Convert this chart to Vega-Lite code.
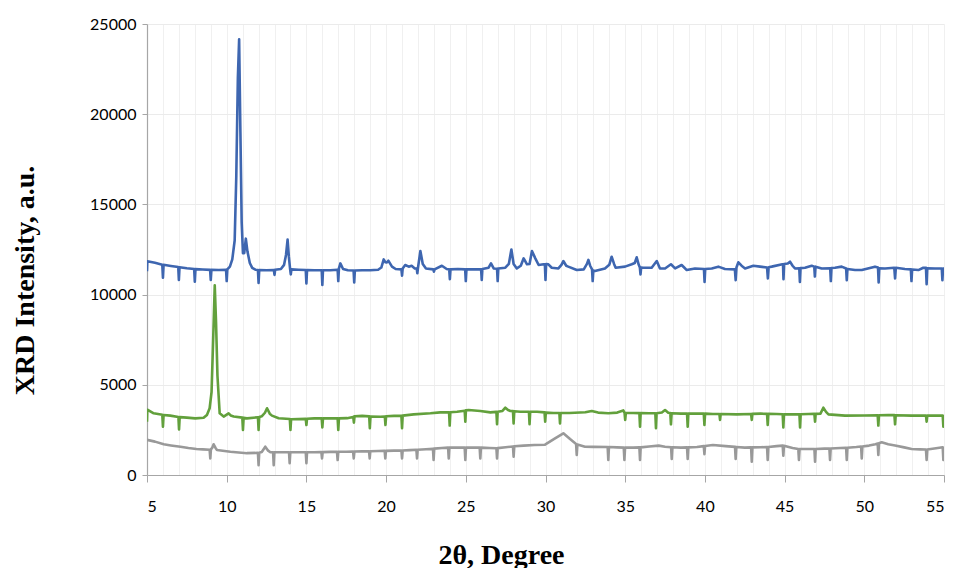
{
"$schema":"https://vega.github.io/schema/vega-lite/v6.json",
"width":797,"height":451,
"autosize":"none",
"padding":{"left":147,"top":24,"right":13,"bottom":93},
"background":"white",
"config":{"view":{"stroke":null}},
"data":{"values":[
{"s":"B","x":5.0,"y":11300},{"s":"B","x":5.02,"y":11850},{"s":"B","x":5.5,"y":11760},{"s":"B","x":5.96,"y":11660},{"s":"B","x":6.0,"y":10940},{"s":"B","x":6.04,"y":11650},{"s":"B","x":6.5,"y":11590},{"s":"B","x":6.96,"y":11530},{"s":"B","x":7.0,"y":10810},{"s":"B","x":7.04,"y":11520},{"s":"B","x":7.5,"y":11460},{"s":"B","x":7.96,"y":11420},{"s":"B","x":8.0,"y":10720},{"s":"B","x":8.04,"y":11410},{"s":"B","x":8.5,"y":11390},{"s":"B","x":8.96,"y":11370},{"s":"B","x":9.0,"y":10810},{"s":"B","x":9.04,"y":11370},{"s":"B","x":9.5,"y":11360},{"s":"B","x":9.96,"y":11380},{"s":"B","x":10.0,"y":10750},{"s":"B","x":10.04,"y":11400},{"s":"B","x":10.2,"y":11550},{"s":"B","x":10.35,"y":11950},{"s":"B","x":10.5,"y":13000},{"s":"B","x":10.6,"y":16500},{"s":"B","x":10.7,"y":22000},{"s":"B","x":10.78,"y":24150},{"s":"B","x":10.86,"y":19000},{"s":"B","x":10.94,"y":14000},{"s":"B","x":11.02,"y":12300},{"s":"B","x":11.1,"y":12300},{"s":"B","x":11.2,"y":13100},{"s":"B","x":11.3,"y":12400},{"s":"B","x":11.45,"y":11750},{"s":"B","x":11.6,"y":11480},{"s":"B","x":11.8,"y":11380},{"s":"B","x":11.96,"y":11360},{"s":"B","x":12.0,"y":10650},{"s":"B","x":12.04,"y":11360},{"s":"B","x":12.5,"y":11350},{"s":"B","x":12.96,"y":11360},{"s":"B","x":13.0,"y":11090},{"s":"B","x":13.04,"y":11380},{"s":"B","x":13.4,"y":11420},{"s":"B","x":13.6,"y":11650},{"s":"B","x":13.72,"y":12200},{"s":"B","x":13.82,"y":13050},{"s":"B","x":13.9,"y":12100},{"s":"B","x":13.98,"y":11400},{"s":"B","x":14.02,"y":11120},{"s":"B","x":14.06,"y":11400},{"s":"B","x":14.5,"y":11380},{"s":"B","x":14.96,"y":11360},{"s":"B","x":15.0,"y":10620},{"s":"B","x":15.04,"y":11360},{"s":"B","x":15.5,"y":11350},{"s":"B","x":15.96,"y":11350},{"s":"B","x":16.0,"y":10530},{"s":"B","x":16.04,"y":11350},{"s":"B","x":16.5,"y":11350},{"s":"B","x":16.96,"y":11380},{"s":"B","x":17.0,"y":10750},{"s":"B","x":17.04,"y":11450},{"s":"B","x":17.13,"y":11730},{"s":"B","x":17.3,"y":11420},{"s":"B","x":17.6,"y":11350},{"s":"B","x":17.96,"y":11340},{"s":"B","x":18.0,"y":10680},{"s":"B","x":18.04,"y":11340},{"s":"B","x":18.5,"y":11350},{"s":"B","x":19.0,"y":11350},{"s":"B","x":19.5,"y":11380},{"s":"B","x":19.7,"y":11500},{"s":"B","x":19.85,"y":11950},{"s":"B","x":19.95,"y":11800},{"s":"B","x":20.05,"y":11780},{"s":"B","x":20.14,"y":11880},{"s":"B","x":20.37,"y":11550},{"s":"B","x":20.6,"y":11420},{"s":"B","x":20.96,"y":11400},{"s":"B","x":21.0,"y":11050},{"s":"B","x":21.04,"y":11450},{"s":"B","x":21.2,"y":11640},{"s":"B","x":21.42,"y":11550},{"s":"B","x":21.6,"y":11600},{"s":"B","x":21.8,"y":11450},{"s":"B","x":21.92,"y":11450},{"s":"B","x":21.96,"y":11180},{"s":"B","x":22.0,"y":11480},{"s":"B","x":22.15,"y":12420},{"s":"B","x":22.3,"y":11700},{"s":"B","x":22.5,"y":11450},{"s":"B","x":22.96,"y":11400},{"s":"B","x":23.0,"y":11270},{"s":"B","x":23.04,"y":11400},{"s":"B","x":23.5,"y":11600},{"s":"B","x":23.8,"y":11420},{"s":"B","x":23.96,"y":11400},{"s":"B","x":24.0,"y":10860},{"s":"B","x":24.04,"y":11400},{"s":"B","x":24.5,"y":11420},{"s":"B","x":24.96,"y":11400},{"s":"B","x":25.0,"y":10750},{"s":"B","x":25.04,"y":11400},{"s":"B","x":25.5,"y":11400},{"s":"B","x":25.96,"y":11400},{"s":"B","x":26.0,"y":10810},{"s":"B","x":26.04,"y":11420},{"s":"B","x":26.43,"y":11490},{"s":"B","x":26.58,"y":11730},{"s":"B","x":26.75,"y":11450},{"s":"B","x":26.96,"y":11430},{"s":"B","x":27.0,"y":10750},{"s":"B","x":27.04,"y":11450},{"s":"B","x":27.48,"y":11490},{"s":"B","x":27.7,"y":11700},{"s":"B","x":27.86,"y":12500},{"s":"B","x":28.0,"y":11700},{"s":"B","x":28.2,"y":11450},{"s":"B","x":28.45,"y":11600},{"s":"B","x":28.63,"y":12010},{"s":"B","x":28.84,"y":11680},{"s":"B","x":29.0,"y":11700},{"s":"B","x":29.15,"y":12420},{"s":"B","x":29.36,"y":12010},{"s":"B","x":29.57,"y":11640},{"s":"B","x":29.88,"y":11680},{"s":"B","x":29.96,"y":11680},{"s":"B","x":30.0,"y":10810},{"s":"B","x":30.04,"y":11700},{"s":"B","x":30.18,"y":11680},{"s":"B","x":30.39,"y":11490},{"s":"B","x":30.81,"y":11450},{"s":"B","x":31.0,"y":11650},{"s":"B","x":31.12,"y":11860},{"s":"B","x":31.3,"y":11600},{"s":"B","x":31.43,"y":11550},{"s":"B","x":31.96,"y":11360},{"s":"B","x":32.4,"y":11400},{"s":"B","x":32.6,"y":11700},{"s":"B","x":32.69,"y":11920},{"s":"B","x":32.8,"y":11600},{"s":"B","x":32.92,"y":11400},{"s":"B","x":32.96,"y":10750},{"s":"B","x":33.0,"y":11330},{"s":"B","x":33.1,"y":11310},{"s":"B","x":33.73,"y":11450},{"s":"B","x":34.0,"y":11650},{"s":"B","x":34.15,"y":12100},{"s":"B","x":34.3,"y":11700},{"s":"B","x":34.4,"y":11490},{"s":"B","x":34.99,"y":11550},{"s":"B","x":35.41,"y":11680},{"s":"B","x":35.6,"y":11750},{"s":"B","x":35.72,"y":12065},{"s":"B","x":35.85,"y":11650},{"s":"B","x":35.92,"y":11500},{"s":"B","x":35.96,"y":11120},{"s":"B","x":36.0,"y":11500},{"s":"B","x":36.14,"y":11490},{"s":"B","x":36.66,"y":11490},{"s":"B","x":36.98,"y":11860},{"s":"B","x":37.18,"y":11450},{"s":"B","x":37.5,"y":11450},{"s":"B","x":37.87,"y":11680},{"s":"B","x":38.13,"y":11450},{"s":"B","x":38.54,"y":11640},{"s":"B","x":38.7,"y":11500},{"s":"B","x":38.86,"y":11360},{"s":"B","x":39.38,"y":11450},{"s":"B","x":39.94,"y":11420},{"s":"B","x":39.98,"y":10700},{"s":"B","x":40.02,"y":11420},{"s":"B","x":40.43,"y":11450},{"s":"B","x":40.84,"y":11550},{"s":"B","x":41.26,"y":11420},{"s":"B","x":41.88,"y":11400},{"s":"B","x":41.93,"y":10800},{"s":"B","x":41.98,"y":11500},{"s":"B","x":42.1,"y":11790},{"s":"B","x":42.3,"y":11600},{"s":"B","x":42.52,"y":11450},{"s":"B","x":43.04,"y":11600},{"s":"B","x":43.46,"y":11550},{"s":"B","x":43.9,"y":11500},{"s":"B","x":43.95,"y":10900},{"s":"B","x":44.0,"y":11520},{"s":"B","x":44.19,"y":11550},{"s":"B","x":44.86,"y":11680},{"s":"B","x":44.9,"y":11680},{"s":"B","x":44.93,"y":10850},{"s":"B","x":44.97,"y":11700},{"s":"B","x":45.2,"y":11720},{"s":"B","x":45.34,"y":11825},{"s":"B","x":45.5,"y":11600},{"s":"B","x":45.65,"y":11450},{"s":"B","x":45.92,"y":11460},{"s":"B","x":45.96,"y":10700},{"s":"B","x":46.0,"y":11470},{"s":"B","x":46.28,"y":11490},{"s":"B","x":46.7,"y":11600},{"s":"B","x":46.86,"y":11550},{"s":"B","x":46.9,"y":11000},{"s":"B","x":46.94,"y":11550},{"s":"B","x":47.33,"y":11450},{"s":"B","x":47.86,"y":11460},{"s":"B","x":47.9,"y":10750},{"s":"B","x":47.94,"y":11470},{"s":"B","x":48.16,"y":11490},{"s":"B","x":48.58,"y":11550},{"s":"B","x":48.86,"y":11450},{"s":"B","x":48.9,"y":10800},{"s":"B","x":48.94,"y":11420},{"s":"B","x":49.42,"y":11360},{"s":"B","x":49.84,"y":11360},{"s":"B","x":50.67,"y":11550},{"s":"B","x":50.86,"y":11500},{"s":"B","x":50.9,"y":10680},{"s":"B","x":50.94,"y":11460},{"s":"B","x":51.3,"y":11450},{"s":"B","x":51.88,"y":11490},{"s":"B","x":51.93,"y":10900},{"s":"B","x":51.98,"y":11490},{"s":"B","x":52.55,"y":11420},{"s":"B","x":52.92,"y":11400},{"s":"B","x":52.96,"y":10750},{"s":"B","x":53.0,"y":11390},{"s":"B","x":53.39,"y":11360},{"s":"B","x":53.7,"y":11490},{"s":"B","x":53.87,"y":11480},{"s":"B","x":53.91,"y":10570},{"s":"B","x":53.95,"y":11460},{"s":"B","x":54.44,"y":11450},{"s":"B","x":54.86,"y":11450},{"s":"B","x":54.9,"y":10800},{"s":"B","x":54.94,"y":11450},{"s":"B","x":55.0,"y":11450},
{"s":"G","x":5.0,"y":2950},{"s":"G","x":5.02,"y":3620},{"s":"G","x":5.42,"y":3420},{"s":"G","x":5.96,"y":3340},{"s":"G","x":6.0,"y":2680},{"s":"G","x":6.04,"y":3330},{"s":"G","x":6.46,"y":3290},{"s":"G","x":6.97,"y":3220},{"s":"G","x":7.01,"y":2530},{"s":"G","x":7.05,"y":3210},{"s":"G","x":7.5,"y":3180},{"s":"G","x":8.03,"y":3140},{"s":"G","x":8.55,"y":3170},{"s":"G","x":8.76,"y":3330},{"s":"G","x":8.93,"y":3700},{"s":"G","x":9.05,"y":4600},{"s":"G","x":9.15,"y":7500},{"s":"G","x":9.25,"y":10520},{"s":"G","x":9.33,"y":8500},{"s":"G","x":9.42,"y":5500},{"s":"G","x":9.56,"y":3420},{"s":"G","x":9.81,"y":3240},{"s":"G","x":10.12,"y":3420},{"s":"G","x":10.25,"y":3300},{"s":"G","x":10.44,"y":3240},{"s":"G","x":10.98,"y":3180},{"s":"G","x":11.02,"y":2500},{"s":"G","x":11.06,"y":3170},{"s":"G","x":11.27,"y":3140},{"s":"G","x":11.96,"y":3200},{"s":"G","x":12.0,"y":2500},{"s":"G","x":12.04,"y":3220},{"s":"G","x":12.21,"y":3260},{"s":"G","x":12.4,"y":3450},{"s":"G","x":12.53,"y":3700},{"s":"G","x":12.7,"y":3400},{"s":"G","x":12.84,"y":3290},{"s":"G","x":13.26,"y":3150},{"s":"G","x":13.96,"y":3100},{"s":"G","x":14.0,"y":2500},{"s":"G","x":14.04,"y":3090},{"s":"G","x":14.5,"y":3100},{"s":"G","x":14.96,"y":3110},{"s":"G","x":15.0,"y":2770},{"s":"G","x":15.04,"y":3120},{"s":"G","x":15.5,"y":3140},{"s":"G","x":15.96,"y":3140},{"s":"G","x":16.0,"y":2640},{"s":"G","x":16.04,"y":3140},{"s":"G","x":16.5,"y":3140},{"s":"G","x":16.96,"y":3140},{"s":"G","x":17.0,"y":2500},{"s":"G","x":17.04,"y":3140},{"s":"G","x":17.55,"y":3150},{"s":"G","x":17.94,"y":3220},{"s":"G","x":17.98,"y":2900},{"s":"G","x":18.02,"y":3260},{"s":"G","x":18.5,"y":3280},{"s":"G","x":18.94,"y":3250},{"s":"G","x":18.98,"y":2590},{"s":"G","x":19.02,"y":3240},{"s":"G","x":19.64,"y":3230},{"s":"G","x":19.92,"y":3240},{"s":"G","x":19.96,"y":2770},{"s":"G","x":20.0,"y":3260},{"s":"G","x":20.5,"y":3280},{"s":"G","x":20.96,"y":3280},{"s":"G","x":21.0,"y":2590},{"s":"G","x":21.04,"y":3290},{"s":"G","x":21.73,"y":3360},{"s":"G","x":22.78,"y":3420},{"s":"G","x":23.4,"y":3470},{"s":"G","x":23.95,"y":3470},{"s":"G","x":23.99,"y":2740},{"s":"G","x":24.03,"y":3480},{"s":"G","x":24.45,"y":3510},{"s":"G","x":24.93,"y":3560},{"s":"G","x":24.97,"y":2960},{"s":"G","x":25.01,"y":3590},{"s":"G","x":25.18,"y":3600},{"s":"G","x":25.91,"y":3550},{"s":"G","x":26.54,"y":3470},{"s":"G","x":26.92,"y":3500},{"s":"G","x":26.96,"y":2810},{"s":"G","x":27.0,"y":3510},{"s":"G","x":27.3,"y":3550},{"s":"G","x":27.48,"y":3730},{"s":"G","x":27.65,"y":3600},{"s":"G","x":27.8,"y":3550},{"s":"G","x":27.96,"y":3540},{"s":"G","x":28.0,"y":2860},{"s":"G","x":28.04,"y":3530},{"s":"G","x":28.42,"y":3510},{"s":"G","x":28.96,"y":3510},{"s":"G","x":29.0,"y":2810},{"s":"G","x":29.04,"y":3510},{"s":"G","x":29.47,"y":3510},{"s":"G","x":29.94,"y":3470},{"s":"G","x":29.98,"y":2960},{"s":"G","x":30.02,"y":3460},{"s":"G","x":30.5,"y":3440},{"s":"G","x":30.87,"y":3440},{"s":"G","x":30.91,"y":2860},{"s":"G","x":30.95,"y":3440},{"s":"G","x":31.5,"y":3440},{"s":"G","x":32.5,"y":3480},{"s":"G","x":32.9,"y":3550},{"s":"G","x":33.3,"y":3460},{"s":"G","x":33.94,"y":3420},{"s":"G","x":34.5,"y":3460},{"s":"G","x":34.88,"y":3580},{"s":"G","x":34.96,"y":3450},{"s":"G","x":35.0,"y":3050},{"s":"G","x":35.04,"y":3440},{"s":"G","x":35.5,"y":3440},{"s":"G","x":35.89,"y":3430},{"s":"G","x":35.93,"y":2680},{"s":"G","x":35.97,"y":3430},{"s":"G","x":36.5,"y":3420},{"s":"G","x":36.89,"y":3420},{"s":"G","x":36.93,"y":2590},{"s":"G","x":36.97,"y":3420},{"s":"G","x":37.3,"y":3460},{"s":"G","x":37.5,"y":3600},{"s":"G","x":37.7,"y":3450},{"s":"G","x":37.83,"y":3430},{"s":"G","x":37.87,"y":2810},{"s":"G","x":37.91,"y":3420},{"s":"G","x":38.5,"y":3400},{"s":"G","x":38.88,"y":3400},{"s":"G","x":38.92,"y":2680},{"s":"G","x":38.96,"y":3400},{"s":"G","x":39.5,"y":3400},{"s":"G","x":39.93,"y":3400},{"s":"G","x":39.97,"y":2770},{"s":"G","x":40.01,"y":3400},{"s":"G","x":40.5,"y":3380},{"s":"G","x":40.91,"y":3380},{"s":"G","x":40.95,"y":3050},{"s":"G","x":40.99,"y":3380},{"s":"G","x":42.0,"y":3360},{"s":"G","x":42.9,"y":3380},{"s":"G","x":42.94,"y":3050},{"s":"G","x":42.98,"y":3390},{"s":"G","x":43.5,"y":3400},{"s":"G","x":43.9,"y":3390},{"s":"G","x":43.94,"y":2770},{"s":"G","x":43.98,"y":3390},{"s":"G","x":44.5,"y":3380},{"s":"G","x":44.88,"y":3370},{"s":"G","x":44.92,"y":2640},{"s":"G","x":44.96,"y":3370},{"s":"G","x":45.5,"y":3360},{"s":"G","x":45.93,"y":3370},{"s":"G","x":45.97,"y":2640},{"s":"G","x":46.01,"y":3370},{"s":"G","x":46.5,"y":3380},{"s":"G","x":46.87,"y":3390},{"s":"G","x":46.91,"y":2960},{"s":"G","x":46.95,"y":3390},{"s":"G","x":47.25,"y":3400},{"s":"G","x":47.43,"y":3730},{"s":"G","x":47.6,"y":3500},{"s":"G","x":47.75,"y":3360},{"s":"G","x":48.79,"y":3290},{"s":"G","x":50.0,"y":3300},{"s":"G","x":50.84,"y":3310},{"s":"G","x":50.88,"y":2740},{"s":"G","x":50.92,"y":3310},{"s":"G","x":51.5,"y":3320},{"s":"G","x":51.89,"y":3320},{"s":"G","x":51.93,"y":2810},{"s":"G","x":51.97,"y":3310},{"s":"G","x":52.97,"y":3290},{"s":"G","x":53.87,"y":3290},{"s":"G","x":53.91,"y":2960},{"s":"G","x":53.95,"y":3290},{"s":"G","x":54.5,"y":3290},{"s":"G","x":54.92,"y":3290},{"s":"G","x":54.96,"y":2680},{"s":"G","x":55.0,"y":3290},
{"s":"R","x":5.0,"y":1950},{"s":"R","x":5.5,"y":1850},{"s":"R","x":6.05,"y":1700},{"s":"R","x":6.5,"y":1640},{"s":"R","x":7.1,"y":1570},{"s":"R","x":7.6,"y":1500},{"s":"R","x":8.1,"y":1440},{"s":"R","x":8.5,"y":1420},{"s":"R","x":8.93,"y":1400},{"s":"R","x":8.97,"y":920},{"s":"R","x":9.01,"y":1420},{"s":"R","x":9.1,"y":1520},{"s":"R","x":9.18,"y":1700},{"s":"R","x":9.3,"y":1500},{"s":"R","x":9.39,"y":1390},{"s":"R","x":10.23,"y":1290},{"s":"R","x":11.27,"y":1210},{"s":"R","x":11.96,"y":1230},{"s":"R","x":12.0,"y":550},{"s":"R","x":12.04,"y":1240},{"s":"R","x":12.2,"y":1280},{"s":"R","x":12.42,"y":1570},{"s":"R","x":12.6,"y":1350},{"s":"R","x":12.74,"y":1260},{"s":"R","x":12.91,"y":1260},{"s":"R","x":12.95,"y":550},{"s":"R","x":12.99,"y":1260},{"s":"R","x":13.5,"y":1260},{"s":"R","x":13.91,"y":1260},{"s":"R","x":13.95,"y":650},{"s":"R","x":13.99,"y":1260},{"s":"R","x":14.5,"y":1260},{"s":"R","x":14.96,"y":1260},{"s":"R","x":15.0,"y":650},{"s":"R","x":15.04,"y":1260},{"s":"R","x":15.5,"y":1260},{"s":"R","x":15.94,"y":1270},{"s":"R","x":15.98,"y":920},{"s":"R","x":16.02,"y":1270},{"s":"R","x":16.5,"y":1280},{"s":"R","x":16.92,"y":1280},{"s":"R","x":16.96,"y":830},{"s":"R","x":17.0,"y":1285},{"s":"R","x":17.5,"y":1290},{"s":"R","x":17.93,"y":1300},{"s":"R","x":17.97,"y":920},{"s":"R","x":18.01,"y":1300},{"s":"R","x":18.5,"y":1310},{"s":"R","x":18.93,"y":1320},{"s":"R","x":18.97,"y":920},{"s":"R","x":19.01,"y":1320},{"s":"R","x":19.5,"y":1330},{"s":"R","x":19.91,"y":1340},{"s":"R","x":19.95,"y":920},{"s":"R","x":19.99,"y":1340},{"s":"R","x":20.5,"y":1350},{"s":"R","x":20.96,"y":1360},{"s":"R","x":21.0,"y":920},{"s":"R","x":21.04,"y":1360},{"s":"R","x":21.5,"y":1380},{"s":"R","x":21.9,"y":1400},{"s":"R","x":21.94,"y":920},{"s":"R","x":21.98,"y":1400},{"s":"R","x":22.5,"y":1430},{"s":"R","x":22.94,"y":1450},{"s":"R","x":22.98,"y":830},{"s":"R","x":23.02,"y":1460},{"s":"R","x":23.5,"y":1500},{"s":"R","x":23.89,"y":1520},{"s":"R","x":23.93,"y":920},{"s":"R","x":23.97,"y":1520},{"s":"R","x":24.5,"y":1520},{"s":"R","x":24.93,"y":1520},{"s":"R","x":24.97,"y":830},{"s":"R","x":25.01,"y":1520},{"s":"R","x":25.5,"y":1520},{"s":"R","x":25.87,"y":1520},{"s":"R","x":25.91,"y":920},{"s":"R","x":25.95,"y":1520},{"s":"R","x":26.5,"y":1500},{"s":"R","x":26.92,"y":1480},{"s":"R","x":26.96,"y":920},{"s":"R","x":27.0,"y":1490},{"s":"R","x":27.5,"y":1540},{"s":"R","x":27.96,"y":1580},{"s":"R","x":28.0,"y":1020},{"s":"R","x":28.04,"y":1590},{"s":"R","x":28.63,"y":1630},{"s":"R","x":29.3,"y":1660},{"s":"R","x":29.97,"y":1680},{"s":"R","x":30.6,"y":2030},{"s":"R","x":31.12,"y":2310},{"s":"R","x":31.54,"y":1990},{"s":"R","x":31.92,"y":1720},{"s":"R","x":31.96,"y":1110},{"s":"R","x":32.0,"y":1690},{"s":"R","x":32.48,"y":1570},{"s":"R","x":33.0,"y":1560},{"s":"R","x":33.9,"y":1550},{"s":"R","x":33.94,"y":830},{"s":"R","x":33.98,"y":1550},{"s":"R","x":34.5,"y":1530},{"s":"R","x":34.91,"y":1520},{"s":"R","x":34.95,"y":830},{"s":"R","x":34.99,"y":1520},{"s":"R","x":35.5,"y":1520},{"s":"R","x":35.89,"y":1530},{"s":"R","x":35.93,"y":830},{"s":"R","x":35.97,"y":1530},{"s":"R","x":36.5,"y":1580},{"s":"R","x":37.1,"y":1630},{"s":"R","x":37.5,"y":1570},{"s":"R","x":37.88,"y":1540},{"s":"R","x":37.92,"y":890},{"s":"R","x":37.96,"y":1540},{"s":"R","x":38.5,"y":1520},{"s":"R","x":38.88,"y":1530},{"s":"R","x":38.92,"y":890},{"s":"R","x":38.96,"y":1530},{"s":"R","x":39.5,"y":1550},{"s":"R","x":39.93,"y":1600},{"s":"R","x":39.97,"y":1150},{"s":"R","x":40.01,"y":1610},{"s":"R","x":40.5,"y":1660},{"s":"R","x":41.3,"y":1600},{"s":"R","x":41.89,"y":1560},{"s":"R","x":41.93,"y":890},{"s":"R","x":41.97,"y":1550},{"s":"R","x":42.5,"y":1520},{"s":"R","x":42.9,"y":1530},{"s":"R","x":42.94,"y":740},{"s":"R","x":42.98,"y":1530},{"s":"R","x":43.5,"y":1540},{"s":"R","x":43.9,"y":1550},{"s":"R","x":43.94,"y":830},{"s":"R","x":43.98,"y":1550},{"s":"R","x":44.5,"y":1600},{"s":"R","x":44.88,"y":1630},{"s":"R","x":44.92,"y":1070},{"s":"R","x":44.96,"y":1620},{"s":"R","x":45.5,"y":1500},{"s":"R","x":45.86,"y":1440},{"s":"R","x":45.9,"y":830},{"s":"R","x":45.94,"y":1440},{"s":"R","x":46.5,"y":1440},{"s":"R","x":46.87,"y":1440},{"s":"R","x":46.91,"y":740},{"s":"R","x":46.95,"y":1440},{"s":"R","x":47.5,"y":1460},{"s":"R","x":47.81,"y":1470},{"s":"R","x":47.85,"y":830},{"s":"R","x":47.89,"y":1470},{"s":"R","x":48.5,"y":1500},{"s":"R","x":48.86,"y":1510},{"s":"R","x":48.9,"y":830},{"s":"R","x":48.94,"y":1510},{"s":"R","x":49.5,"y":1550},{"s":"R","x":49.8,"y":1580},{"s":"R","x":49.84,"y":920},{"s":"R","x":49.88,"y":1580},{"s":"R","x":50.3,"y":1630},{"s":"R","x":50.7,"y":1700},{"s":"R","x":50.84,"y":1740},{"s":"R","x":50.88,"y":1110},{"s":"R","x":50.92,"y":1760},{"s":"R","x":51.09,"y":1810},{"s":"R","x":51.5,"y":1700},{"s":"R","x":51.93,"y":1630},{"s":"R","x":52.5,"y":1530},{"s":"R","x":52.97,"y":1440},{"s":"R","x":53.5,"y":1420},{"s":"R","x":53.87,"y":1410},{"s":"R","x":53.91,"y":830},{"s":"R","x":53.95,"y":1410},{"s":"R","x":54.5,"y":1480},{"s":"R","x":54.92,"y":1540},{"s":"R","x":54.96,"y":830},{"s":"R","x":55.0,"y":1560}
]},
"mark":{"type":"line","strokeWidth":2.6,"strokeJoin":"round","clip":true},
"encoding":{
"x":{"field":"x","type":"quantitative","scale":{"domain":[5,55],"nice":false,"zero":false},
"axis":{"title":"2θ, Degree","values":[5,6,7,8,9,10,11,12,13,14,15,16,17,18,19,20,21,22,23,24,25,26,27,28,29,30,31,32,33,34,35,36,37,38,39,40,41,42,43,44,45,46,47,48,49,50,51,52,53,54,55],
"labelExpr":"datum.value % 5 === 0 ? datum.label : ''",
"tickColor":{"condition":{"test":"datum.value % 5 === 0","value":"#A6A6A6"},"value":"transparent"},
"tickSize":7,"labelPadding":16,"labelFont":"Lato","labelFontSize":16,"labelColor":"#000000","labelOverlap":false,
"grid":true,"gridColor":"#F0F0F0","gridWidth":1,"domainColor":"#A6A6A6","domainWidth":1.2,
"titleFont":"Liberation Serif","titleFontSize":28,"titleFontWeight":"bold","titleColor":"#000000",
"titleX":354,"titleY":80,"titleAlign":"center","titleBaseline":"middle"}},
"y":{"field":"y","type":"quantitative","scale":{"domain":[0,25000],"nice":false},
"axis":{"title":"XRD Intensity, a.u.","values":[0,5000,10000,15000,20000,25000],"format":"d",
"tickSize":5,"tickColor":"#A6A6A6","labelPadding":6,"labelFont":"Lato","labelFontSize":16,"labelColor":"#000000",
"grid":true,"gridColor":"#EBEBEB","gridWidth":1,"domainColor":"#A6A6A6","domainWidth":1.2,
"titleFont":"Liberation Serif","titleFontSize":28,"titleFontWeight":"bold","titleColor":"#000000",
"titleX":-122,"titleY":256,"titleAngle":-90,"titleAlign":"center","titleBaseline":"middle"}},
"color":{"field":"s","type":"nominal","scale":{"domain":["R","G","B"],"range":["#999999","#62A03C","#3E66B0"]},"legend":null}
}
}
